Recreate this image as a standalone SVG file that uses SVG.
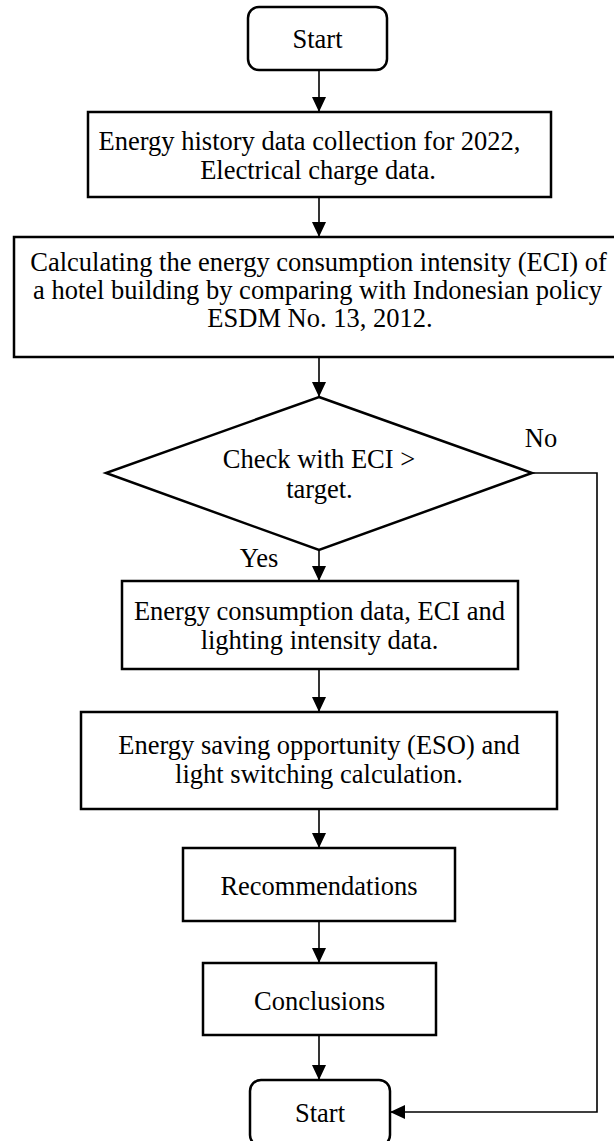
<svg xmlns="http://www.w3.org/2000/svg" width="614" height="1141" viewBox="0 0 614 1141">
<defs>
<marker id="arr" markerUnits="userSpaceOnUse" markerWidth="15" markerHeight="14" refX="15" refY="7" orient="auto">
<path d="M0,0 L15,7 L0,14 z" fill="#000"/>
</marker>
<style>
.box{fill:#fff;stroke:#000;stroke-width:2.5}
.t{font-family:"Liberation Serif","Times New Roman",serif;font-size:26.5px;fill:#000;text-anchor:middle}
.c{fill:none;stroke:#000;stroke-width:1.6;marker-end:url(#arr)}
</style>
</defs>
<rect width="614" height="1141" fill="#fff"/>
<g id="connectors">
<line class="c" x1="319" y1="70" x2="319" y2="112"/>
<line class="c" x1="319" y1="197" x2="319" y2="237"/>
<line class="c" x1="319" y1="357" x2="319" y2="397"/>
<line class="c" x1="319" y1="550" x2="319" y2="581"/>
<line class="c" x1="319" y1="669" x2="319" y2="712"/>
<line class="c" x1="319" y1="809" x2="319" y2="848"/>
<line class="c" x1="319" y1="921" x2="319" y2="963"/>
<line class="c" x1="319" y1="1035" x2="319" y2="1080"/>
<polyline class="c" points="532,473 597,473 597,1112 390,1112"/>
<text class="t" x="541" y="447">No</text>
<text class="t" x="259" y="567">Yes</text>
</g>
<g id="start">
<rect class="box" x="248" y="7" width="139" height="63" rx="11"/>
<text class="t" x="317.5" y="48">Start</text>
</g>
<g id="collect">
<rect class="box" x="88" y="112" width="463" height="85"/>
<text class="t" x="309.5" y="150">Energy history data collection for 2022,</text>
<text class="t" x="318" y="179">Electrical charge data.</text>
</g>
<g id="calc">
<rect class="box" x="14" y="237" width="604" height="120"/>
<text class="t" x="318.5" y="271">Calculating the energy consumption intensity (ECI) of</text>
<text class="t" x="317.5" y="299">a hotel building by comparing with Indonesian policy</text>
<text class="t" x="320" y="327">ESDM No. 13, 2012.</text>
</g>
<g id="check">
<polygon class="box" points="319,397 532,473 319,550 106,473"/>
<text class="t" x="319" y="468">Check with ECI &gt;</text>
<text class="t" x="319.5" y="498">target.</text>
</g>
<g id="data">
<rect class="box" x="122" y="581" width="396" height="88"/>
<text class="t" x="319.5" y="620">Energy consumption data, ECI and</text>
<text class="t" x="319.5" y="649">lighting intensity data.</text>
</g>
<g id="eso">
<rect class="box" x="81" y="712" width="476" height="97"/>
<text class="t" x="319" y="754">Energy saving opportunity (ESO) and</text>
<text class="t" x="319" y="783">light switching calculation.</text>
</g>
<g id="recommend">
<rect class="box" x="183" y="848" width="272" height="73"/>
<text class="t" x="319" y="895">Recommendations</text>
</g>
<g id="conclude">
<rect class="box" x="203" y="963" width="233" height="72"/>
<text class="t" x="319.5" y="1010">Conclusions</text>
</g>
<g id="end">
<rect class="box" x="250" y="1080" width="140" height="66" rx="11"/>
<text class="t" x="320" y="1122">Start</text>
</g>
</svg>
